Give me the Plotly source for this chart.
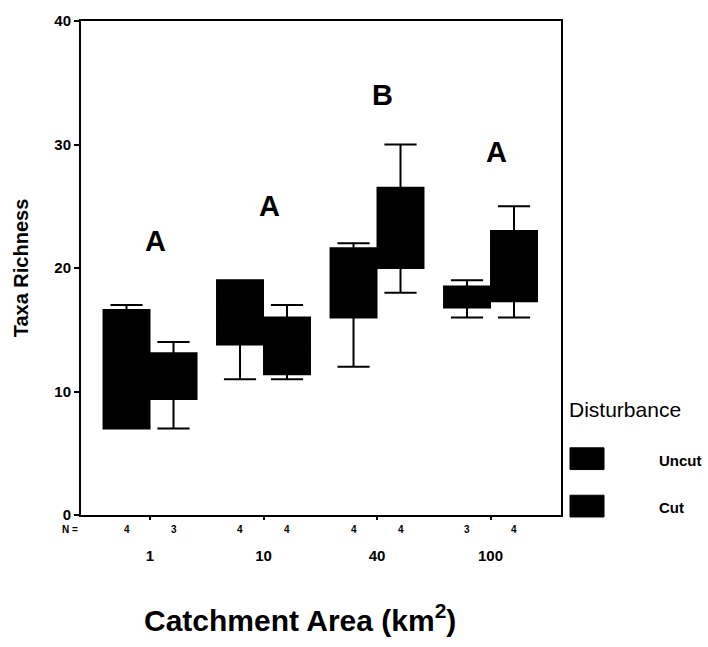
import plotly.graph_objects as go

# ---- data ----
areas = ["1", "10", "40", "100"]
series = ["Uncut", "Cut"]
uncut_min = [7, 11, 12, 16]
uncut_q1 = [7, 13.8, 16, 16.8]
uncut_med = [12, 16.5, 19, 17.5]
uncut_q3 = [16.6, 19, 21.6, 18.5]
uncut_max = [17, 19, 22, 19]
cut_min = [7, 11, 18, 16]
cut_q1 = [9.4, 11.4, 20, 17.3]
cut_med = [11, 13.5, 23, 19.5]
cut_q3 = [13.1, 16, 26.5, 23]
cut_max = [14, 17, 30, 25]
uncut_n = [4, 4, 4, 3]
cut_n = [3, 4, 4, 4]
letters = ["A", "A", "B", "A"]
letter_y = [22.2, 25, 34, 29.4]
y_ticks = [0, 10, 20, 30, 40]

FONT = "Liberation Sans, Arial, sans-serif"
OFF = 0.207
BW = 0.405
gx = list(range(len(areas)))
ux = [g - OFF for g in gx]
cx = [g + OFF for g in gx]

# pixel -> paper helpers (plot area: x 81..561, y 15..515)
def px(x):
    return (x - 81) / 480

def py(y):
    return (515 - y) / 500

fig = go.Figure()
for name, xs, lo, q1, med, q3, hi in [
    (series[0], ux, uncut_min, uncut_q1, uncut_med, uncut_q3, uncut_max),
    (series[1], cx, cut_min, cut_q1, cut_med, cut_q3, cut_max),
]:
    fig.add_trace(go.Box(
        name=name, x=xs, q1=q1, median=med, q3=q3,
        lowerfence=lo, upperfence=hi, width=BW, whiskerwidth=0.7,
        fillcolor="black", line=dict(color="black", width=2),
        boxpoints=False, showlegend=False,
    ))

annotations = []
# significance letters
for g, t, y in zip(gx, letters, letter_y):
    annotations.append(dict(x=g + 0.05, y=y, xref="x", yref="y", text=t,
                            xanchor="center", yanchor="middle", showarrow=False,
                            font=dict(family=FONT, size=29, color="black", weight="bold")))
# N row
annotations.append(dict(x=px(70), y=py(530), xref="paper", yref="paper", text="N =",
                        xanchor="center", yanchor="middle", showarrow=False,
                        font=dict(family=FONT, size=10, color="black", weight="bold")))
for xs, ns in [(ux, uncut_n), (cx, cut_n)]:
    for x, n in zip(xs, ns):
        annotations.append(dict(x=x, y=py(530), xref="x", yref="paper", text=str(n),
                                xanchor="center", yanchor="middle", showarrow=False,
                                font=dict(family=FONT, size=10, color="black", weight="bold")))
# x title
annotations.append(dict(x=px(300), y=py(619), xref="paper", yref="paper",
                        text="Catchment Area (km<sup>2</sup>)", showarrow=False,
                        xanchor="center", yanchor="middle",
                        font=dict(family=FONT, size=30, color="black", weight="bold")))
# legend (manual)
annotations.append(dict(x=px(567), y=py(408), xref="paper", yref="paper",
                        text="Disturbance", showarrow=False, xanchor="left", yanchor="middle",
                        font=dict(family=FONT, size=21, color="black")))
shapes = []
for name, ytop, ybot, ytxt in [(series[0], 447, 469, 460), (series[1], 495, 517, 507)]:
    shapes.append(dict(type="rect", xref="paper", yref="paper",
                       x0=px(570), x1=px(604), y0=py(ybot), y1=py(ytop),
                       fillcolor="black", line=dict(color="black", width=1)))
    annotations.append(dict(x=px(657), y=py(ytxt), xref="paper", yref="paper",
                            text=name, showarrow=False, xanchor="left", yanchor="middle",
                            font=dict(family=FONT, size=15, color="black", weight="bold")))

fig.update_layout(
    width=708, height=647,
    margin=dict(l=81, r=147, t=15, b=132),
    paper_bgcolor="white", plot_bgcolor="white",
    boxmode="overlay",
    showlegend=False,
    annotations=annotations,
    shapes=shapes,
    xaxis=dict(range=[-0.608, 3.621], tickmode="array", tickvals=gx, ticktext=areas,
               showline=True, linecolor="black", linewidth=2, mirror=True,
               ticks="outside", ticklen=3, tickcolor="black", tickwidth=2,
               ticklabelstandoff=23, showgrid=False, zeroline=False,
               tickfont=dict(family=FONT, size=15, color="black", weight="bold")),
    yaxis=dict(range=[0, 40], tickmode="array", tickvals=y_ticks,
               showline=True, linecolor="black", linewidth=2, mirror=True,
               ticks="outside", ticklen=5, tickcolor="black", tickwidth=2,
               showgrid=False, zeroline=False,
               tickfont=dict(family=FONT, size=15, color="black", weight="bold"),
               title=dict(text="Taxa Richness", standoff=20,
                          font=dict(family=FONT, size=20, color="black", weight="bold"))),
)

fig.write_html("out.html")
